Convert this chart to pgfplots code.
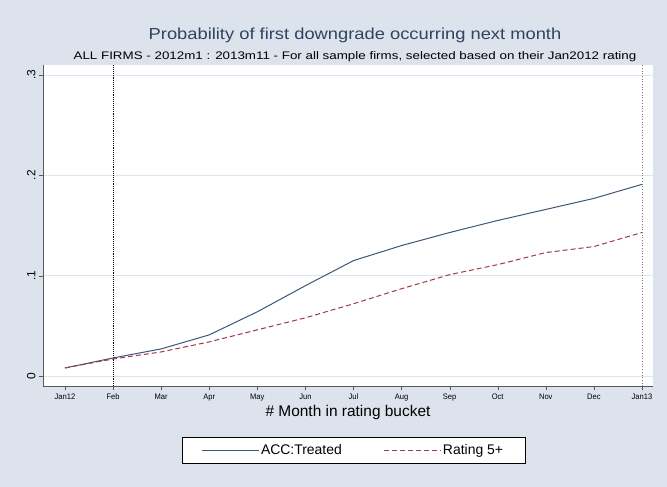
\documentclass[border=0pt]{standalone}
\usepackage{pgfplots}
\pgfplotsset{compat=1.18}
\usepackage{fontspec}
\setmainfont{Liberation Sans}
\definecolor{bgc}{RGB}{220,227,236}
\definecolor{acc}{RGB}{60,85,120}
\definecolor{rat}{RGB}{160,60,65}
\definecolor{gridc}{RGB}{220,230,242}
\begin{document}
\begin{tikzpicture}
\useasboundingbox (0bp,0bp) rectangle (667bp,487bp);
\fill[bgc] (0bp,0bp) rectangle (667bp,487bp);
\node[text=acc!80!black,font=\fontsize{16}{18}\selectfont,xscale=1.15] at (355bp,452bp) {Probability of first downgrade occurring next month};
\node[font=\fontsize{11}{12}\selectfont,xscale=1.22] at (355bp,430bp) {ALL FIRMS - 2012m1 : 2013m11 - For all sample firms, selected based on their Jan2012 rating};
\begin{axis}[
  at={(43bp,101bp)}, anchor=south west,
  width=610bp, height=321bp, scale only axis,
  xmin=-0.457, xmax=12.23, ymin=-0.00995, ymax=0.30995,
  axis background/.style={fill=white},
  axis x line*=bottom, axis y line*=left,
  axis line style={gray!70!black},
  xtick={0,...,12},
  xticklabels={Jan12,Feb,Mar,Apr,May,Jun,Jul,Aug,Sep,Oct,Nov,Dec,Jan13},
  x tick label style={font=\fontsize{8}{9}\selectfont,xscale=0.95},
  ytick={0,0.1,0.2,0.3},
  yticklabels={0,.1,.2,.3},
  y tick label style={rotate=90,font=\fontsize{12}{13}\selectfont,anchor=south},
  tick align=outside, tick style={gray!70!black},
  major tick length=4bp,
  ymajorgrids, grid style={gridc,line width=0.8pt},
  xlabel={\# Month in rating bucket},
  xlabel style={font=\fontsize{15.5}{17}\selectfont, yshift=2bp},
  legend columns=2,
  legend style={at={(0.509,-0.2)},anchor=center,draw=black,fill=white,
    font=\fontsize{14}{16}\selectfont, inner xsep=20bp, inner ysep=5bp,
    /tikz/every even column/.append style={column sep=40bp}},
  legend cell align=left,
  legend image post style={xscale=3.3},
]
\draw[black,densely dotted,line width=0.9pt] (axis cs:1,-0.00995) -- (axis cs:1,0.30995);
\draw[gray,dotted,line width=0.7pt] (axis cs:12,-0.00995) -- (axis cs:12,0.30995);
\addplot[acc,line width=1pt] coordinates {(0,0.008)(1,0.018)(2,0.027)(3,0.041)(4,0.064)(5,0.090)(6,0.115)(7,0.130)(8,0.143)(9,0.155)(10,0.166)(11,0.177)(12,0.191)};
\addlegendentry{ACC:Treated}
\addplot[rat,line width=1pt,dash pattern=on 5bp off 3bp] coordinates {(0,0.008)(1,0.017)(2,0.024)(3,0.034)(4,0.046)(5,0.058)(6,0.072)(7,0.087)(8,0.101)(9,0.111)(10,0.123)(11,0.129)(12,0.143)};
\addlegendentry{Rating 5+}
\end{axis}
\end{tikzpicture}
\end{document}
